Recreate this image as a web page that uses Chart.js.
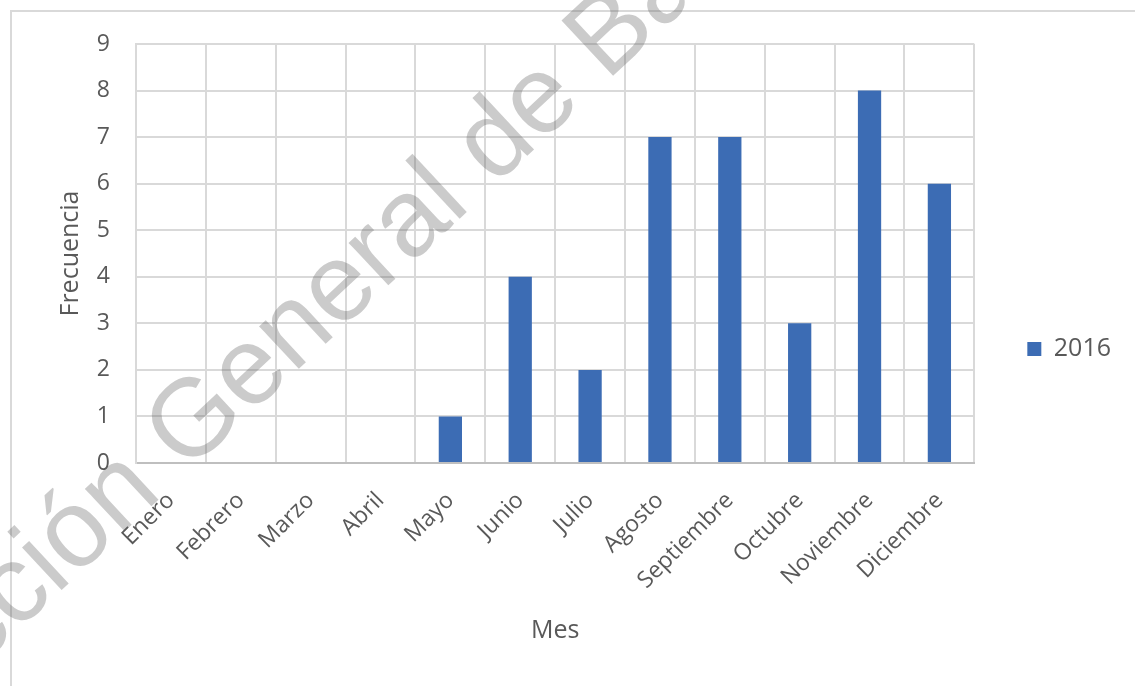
<!DOCTYPE html>
<html>
<head>
<meta charset="utf-8">
<script src="https://cdn.jsdelivr.net/npm/chart.js@4/dist/chart.umd.min.js"></script>
<style>
  html, body { margin: 0; padding: 0; background: #fff; }
  #wrap { width: 1135px; height: 686px; }
</style>
</head>
<body>
<div id="wrap"><canvas id="freqChart"></canvas></div>
<script>
const months = ['Enero', 'Febrero', 'Marzo', 'Abril', 'Mayo', 'Junio', 'Julio',
  'Agosto', 'Septiembre', 'Octubre', 'Noviembre', 'Diciembre'];
const freq2016 = [0, 0, 0, 0, 1, 4, 2, 7, 7, 3, 8, 6];
const seriesName = '2016';
const yTicks = [0, 1, 2, 3, 4, 5, 6, 7, 8, 9];
const watermarkText = ['Dirección ', 'General de Bachillerato'];

const textColor = '#595959';
const gridColor = '#d9d9d9';

// thin frame around the whole chart
const framePlugin = {
  id: 'frame',
  beforeDraw(chart) {
    const ctx = chart.ctx;
    ctx.save();
    ctx.strokeStyle = gridColor;
    ctx.lineWidth = 2;
    ctx.strokeRect(11, 11, 2000, 2000);
    ctx.restore();
  }
};

// diagonal watermark over the chart
const watermarkPlugin = {
  id: 'watermark',
  afterDraw(chart) {
    const ctx = chart.ctx;
    ctx.save();
    ctx.font = '110px "Liberation Sans", Arial, sans-serif';
    ctx.fillStyle = 'rgba(94, 94, 94, 0.32)';
    ctx.textBaseline = 'alphabetic';
    ctx.translate(186, 474);
    ctx.rotate(-43 * Math.PI / 180);
    ctx.textAlign = 'right';
    ctx.fillText(watermarkText[0], 0, 0);
    ctx.textAlign = 'left';
    ctx.fillText(watermarkText[1], 0, 0);
    ctx.restore();
  }
};

const ctx = document.getElementById('freqChart').getContext('2d');
new Chart(ctx, {
  type: 'bar',
  data: {
    labels: months,
    datasets: [{
      label: seriesName,
      data: freq2016,
      backgroundColor: '#3c6cb4',
      borderWidth: 0,
      categoryPercentage: 1,
      barPercentage: 0.333
    }]
  },
  options: {
    responsive: true,
    maintainAspectRatio: false,
    animation: false,
    layout: { padding: { left: 0, top: 44, right: 14, bottom: 32 } },
    plugins: {
      legend: {
        position: 'right',
        labels: {
          padding: 53,
          boxWidth: 14,
          boxHeight: 14,
          color: textColor,
          font: { family: 'Open Sans', size: 25 }
        }
      },
      tooltip: { enabled: false }
    },
    scales: {
      x: {
        grid: { color: gridColor, lineWidth: 2, drawTicks: false },
        border: { color: '#bfbfbf', width: 2 },
        ticks: {
          color: textColor,
          font: { family: 'Open Sans', size: 23 },
          minRotation: 45,
          maxRotation: 45,
          padding: 24,
          autoSkip: false
        },
        title: {
          display: true,
          text: 'Mes',
          color: textColor,
          font: { family: 'Open Sans', size: 25 },
          padding: { top: 0, bottom: 8 }
        },
        afterFit(scale) { scale.height = 191; }
      },
      y: {
        min: 0,
        max: 9,
        afterBuildTicks(scale) { scale.ticks = yTicks.map(v => ({ value: v })); },
        grid: {
          color: c => (c.tick && c.tick.value === 0 ? '#bfbfbf' : gridColor),
          lineWidth: 2,
          drawTicks: false
        },
        border: { color: gridColor, width: 2 },
        ticks: {
          color: textColor,
          font: { family: 'Open Sans', size: 23 },
          padding: 26
        },
        title: {
          display: true,
          text: 'Frecuencia',
          color: textColor,
          font: { family: 'Open Sans', size: 25 },
          padding: { top: 56, bottom: 0 }
        },
        afterFit(scale) { scale.width = 136; }
      }
    }
  },
  plugins: [framePlugin, watermarkPlugin]
});
</script>
</body>
</html>
